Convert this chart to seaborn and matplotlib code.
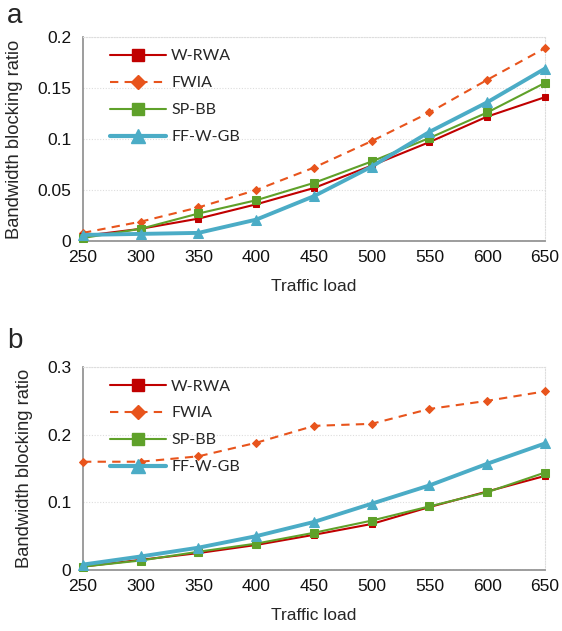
import matplotlib
matplotlib.use("Agg")
import matplotlib.pyplot as plt
import seaborn as sns
import pandas as pd
from matplotlib.lines import Line2D

sns.set_style("white")
plt.rcParams['font.family'] = ['Liberation Sans', 'DejaVu Sans']

traffic_load = [250, 300, 350, 400, 450, 500, 550, 600, 650]
series_names = ["W-RWA", "FWIA", "SP-BB", "FF-W-GB"]

# panel a
a_wrwa = [0.005, 0.012, 0.022, 0.036, 0.052, 0.074, 0.097, 0.122, 0.141]
a_fwia = [0.008, 0.019, 0.033, 0.050, 0.072, 0.098, 0.126, 0.158, 0.189]
a_spbb = [0.003, 0.012, 0.027, 0.040, 0.057, 0.078, 0.101, 0.126, 0.155]
a_ffwgb = [0.006, 0.007, 0.008, 0.021, 0.044, 0.073, 0.107, 0.136, 0.169]

# panel b
b_wrwa = [0.005, 0.015, 0.025, 0.037, 0.052, 0.068, 0.093, 0.116, 0.139]
b_fwia = [0.160, 0.160, 0.168, 0.188, 0.213, 0.216, 0.238, 0.250, 0.264]
b_spbb = [0.005, 0.014, 0.027, 0.039, 0.055, 0.073, 0.094, 0.115, 0.144]
b_ffwgb = [0.008, 0.020, 0.033, 0.050, 0.071, 0.098, 0.125, 0.157, 0.187]

styles = {
    "W-RWA": dict(color="#C00000", marker="s", ls="-", lw=1.5, ms=5, lms=8.5),
    "FWIA": dict(color="#E8541C", marker="D", ls=(0, (4, 3)), lw=1.5, ms=4, lms=7.5),
    "SP-BB": dict(color="#5FA12A", marker="s", ls="-", lw=1.5, ms=6, lms=8.5),
    "FF-W-GB": dict(color="#4BACC6", marker="^", ls="-", lw=2.8, ms=7, lms=10),
}

fig = plt.figure(figsize=(5.62, 6.31), dpi=100)
ax_a = fig.add_axes([0.1477, 0.618, 0.822, 0.3234])
ax_b = fig.add_axes([0.1477, 0.0967, 0.822, 0.3217])

def draw(ax, data, ymax, yticks, ylabels):
    order = ["W-RWA", "FWIA", "SP-BB", "FF-W-GB"]
    draw_order = ["FWIA", "W-RWA", "SP-BB", "FF-W-GB"]
    for name in draw_order:
        st = styles[name]
        df = pd.DataFrame({"x": traffic_load, "y": data[name]})
        sns.lineplot(data=df, x="x", y="y", ax=ax, color=st["color"],
                     marker=st["marker"], markersize=st["ms"],
                     markeredgecolor=st["color"], linewidth=st["lw"],
                     linestyle=st["ls"], clip_on=False, zorder=3)
    ax.set_xlim(250, 650)
    ax.set_ylim(0, ymax)
    ax.set_xticks(traffic_load)
    ax.set_xticklabels([str(v) for v in traffic_load])
    ax.set_yticks(yticks)
    ax.set_yticklabels(ylabels)
    ax.tick_params(axis="both", length=0, labelsize=12.5, colors="#111111")
    ax.tick_params(axis="x", pad=6.5)
    ax.tick_params(axis="y", pad=8.5)
    ax.set_xlabel("Traffic load", fontsize=12.5, labelpad=10)
    ax.set_ylabel("Bandwidth blocking ratio", fontsize=13.2, labelpad=10)
    ax.yaxis.grid(True, color="#DDDDDD", linestyle=(0, (1, 1.5)), linewidth=0.8)
    ax.set_axisbelow(True)
    for s in ["left", "bottom"]:
        ax.spines[s].set_color("#8C8C8C")
        ax.spines[s].set_linewidth(1.2)
    for s in ["top", "right"]:
        ax.spines[s].set_color("#DDDDDD")
        ax.spines[s].set_linestyle((0, (1, 1.5)))
        ax.spines[s].set_linewidth(0.8)
    handles = []
    for name in order:
        st = styles[name]
        handles.append(Line2D([0], [0], color=st["color"], marker=st["marker"],
                              markersize=st["lms"], markeredgecolor=st["color"],
                              linewidth=st["lw"] if name != "FF-W-GB" else 3,
                              linestyle=st["ls"]))
    ax.legend(handles, order, loc="upper left", bbox_to_anchor=(0.027, 1.01),
              frameon=False, handlelength=3.5, handletextpad=0.33,
              labelspacing=0.8, prop={"family": "Lato", "size": 11.5})

draw(ax_a, {"W-RWA": a_wrwa, "FWIA": a_fwia, "SP-BB": a_spbb, "FF-W-GB": a_ffwgb},
     0.2, [0, 0.05, 0.1, 0.15, 0.2], ["0", "0.05", "0.1", "0.15", "0.2"])
draw(ax_b, {"W-RWA": b_wrwa, "FWIA": b_fwia, "SP-BB": b_spbb, "FF-W-GB": b_ffwgb},
     0.3, [0, 0.1, 0.2, 0.3], ["0", "0.1", "0.2", "0.3"])

fig.text(0.012, 0.975, "a", fontsize=20, va="center", ha="left")
fig.text(0.012, 0.460, "b", fontsize=20, va="center", ha="left")

fig.savefig("out.png", dpi=100)
